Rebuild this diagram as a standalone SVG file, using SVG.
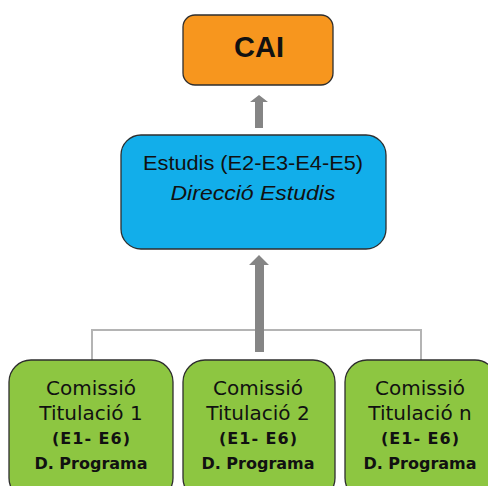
<svg xmlns="http://www.w3.org/2000/svg" width="488" height="486" viewBox="0 0 488 486">
<style>
.box{stroke:#2e2e2e;stroke-width:1.3}
.cai{fill:#F7961E}
.est{fill:#12AEEA}
.com{fill:#8DC641}
.t{font-family:"Liberation Sans",Arial,sans-serif;fill:#111;text-anchor:middle}
.g{font-family:"DejaVu Sans",Verdana,sans-serif;fill:#111;text-anchor:middle}
.conn{stroke:#b4b4b4;stroke-width:2;fill:none}
.arr{fill:#858585}
</style>
<rect width="488" height="486" fill="#fff"/>
<g id="connectors">
<path class="conn" d="M92,360 V330 H421 V360"/>
<path class="arr" d="M255,128 V102 H250 L259,95 L268,102 H263 V128 Z"/>
<path class="arr" d="M255,352 V265 H249 L259,255 L269,265 H264 V352 Z"/>
</g>
<g id="cai">
<rect class="box cai" x="183" y="15" width="150" height="70" rx="12"/>
<text class="t" x="259" y="57" font-size="29" font-weight="bold">CAI</text>
</g>
<g id="estudis">
<rect class="box est" x="121" y="135" width="265" height="114" rx="20"/>
<text class="t" x="253" y="170" font-size="21" textLength="220" lengthAdjust="spacingAndGlyphs">Estudis (E2-E3-E4-E5)</text>
<text class="t" x="253" y="200" font-size="21" font-style="italic" textLength="165" lengthAdjust="spacingAndGlyphs">Direcció Estudis</text>
</g>
<g id="comissio1">
<rect class="box com" x="9" y="360" width="164" height="140" rx="22"/>
<text class="g" x="91" y="395" font-size="20">Comissió</text>
<text class="g" x="91" y="420" font-size="20">Titulació 1</text>
<text class="g" x="91" y="444" font-size="16" font-weight="bold" textLength="78">(E1- E6)</text>
<text class="g" x="91" y="469" font-size="16" font-weight="bold">D. Programa</text>
</g>
<g id="comissio2">
<rect class="box com" x="183" y="360" width="152" height="140" rx="22"/>
<text class="g" x="258" y="395" font-size="20">Comissió</text>
<text class="g" x="258" y="420" font-size="20">Titulació 2</text>
<text class="g" x="258" y="444" font-size="16" font-weight="bold" textLength="78">(E1- E6)</text>
<text class="g" x="258" y="469" font-size="16" font-weight="bold">D. Programa</text>
</g>
<g id="comissioN">
<rect class="box com" x="345" y="360" width="152" height="140" rx="22"/>
<text class="g" x="420" y="395" font-size="20">Comissió</text>
<text class="g" x="420" y="420" font-size="20">Titulació n</text>
<text class="g" x="420" y="444" font-size="16" font-weight="bold" textLength="78">(E1- E6)</text>
<text class="g" x="420" y="469" font-size="16" font-weight="bold">D. Programa</text>
</g>
</svg>
